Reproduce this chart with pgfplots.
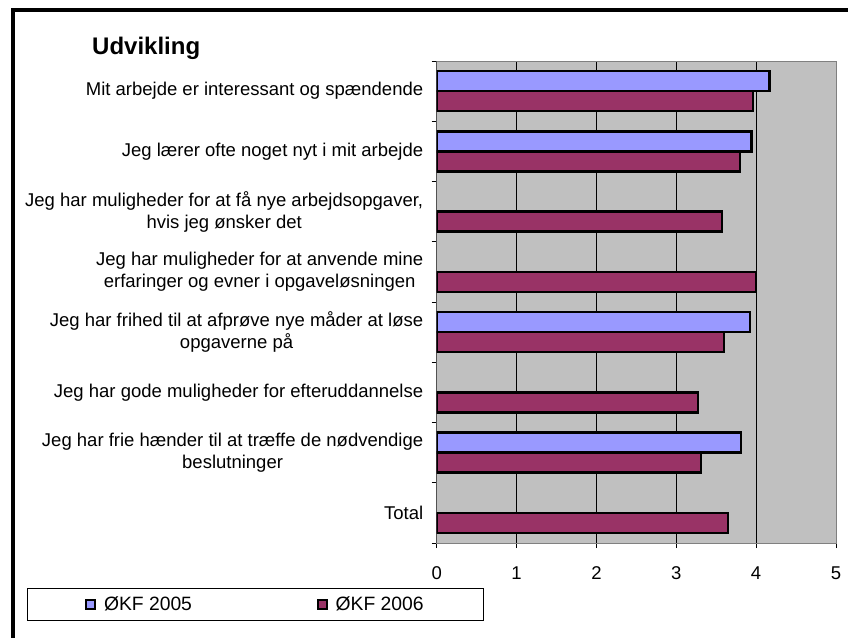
\documentclass[border=0pt]{standalone}
\usepackage{pgfplots}
\pgfplotsset{compat=1.18}
\usepackage{fontspec}
\setmainfont{Liberation Sans}
\definecolor{barblue}{HTML}{9999FF}
\definecolor{barred}{HTML}{993366}
\definecolor{plotbg}{HTML}{C0C0C0}
\definecolor{bordergray}{HTML}{808080}
\begin{document}
\begin{tikzpicture}
\useasboundingbox (0,0) rectangle (848bp,638bp);
\begin{axis}[
  at={(436.7bp,95bp)}, anchor=south west,
  scale only axis, width=399.3bp, height=482bp,
  xbar, bar width=20bp,
  xmin=0, xmax=5, ymin=-0.5, ymax=7.5,
  axis background/.style={fill=plotbg},
  axis line style={draw=bordergray, line width=1bp},
  xtick={0,1,2,3,4,5},
  xmajorgrids, major grid style={black, line width=0.9bp},
  ytick={-0.5,0.5,...,7.5}, yticklabels={},
  extra y ticks={0,1,2,3,4,5,6,7},
  extra y tick labels={Total,{Jeg har frie hænder til at træffe de nødvendige\\beslutninger},{Jeg har gode muligheder for efteruddannelse},{Jeg har frihed til at afprøve nye måder at løse\\opgaverne på},{Jeg har muligheder for at anvende mine\\erfaringer og evner i opgaveløsningen~},{Jeg har muligheder for at få nye arbejdsopgaver,\\hvis jeg ønsker det},{Jeg lærer ofte noget nyt i mit arbejde},{Mit arbejde er interessant og spændende}},
  extra y tick style={tick style={draw=none}, grid=none},
  tick align=outside, major tick length=5bp,
  xtick pos=bottom, ytick pos=left,
  tick style={black, line width=0.9bp},
  /pgf/number format/assume math mode=true,
  xticklabel style={font=\fontsize{18.5bp}{22bp}\selectfont, yshift=-15bp},
  yticklabel style={font=\fontsize{18.5bp}{21.7bp}\selectfont, align=center, xshift=-5bp},
  legend columns=2,
  legend style={at={(-1.027,-0.0934)}, anchor=north west, draw=black, line width=0.8bp,
    font=\fontsize{19.3bp}{23bp}\selectfont, inner xsep=58bp, inner ysep=6.5bp,
    /tikz/every even column/.append style={column sep=122.7bp}},
  legend image code/.code={\draw[#1, line width=2bp] (0bp,-4.5bp) rectangle (9bp,4.5bp); \path[draw=none, fill=none] (16bp,0bp) circle (0bp);},
]
\addplot[fill=barblue, draw=black, line width=2.5bp, bar shift=10bp] coordinates {
  (4.17,7) (3.94,6) (3.92,3) (3.81,1)
};
\addplot[fill=barred, draw=black, line width=2.5bp, bar shift=-10bp] coordinates {
  (3.96,7) (3.80,6) (3.57,5) (4.00,4) (3.60,3) (3.27,2) (3.31,1) (3.65,0)
};
\legend{ØKF 2005, ØKF 2006}
\draw[black, line width=1bp] (rel axis cs:0,0) -- (rel axis cs:1,0);
\draw[black, line width=1bp] (rel axis cs:0,0) -- (rel axis cs:0,1);
\end{axis}
\draw[black, line width=4bp] (11bp,627.5bp) -- (848bp,627.5bp);
\draw[black, line width=4bp] (13bp,629.5bp) -- (13bp,0bp);
\node[anchor=west, font=\bfseries\fontsize{24bp}{28bp}\selectfont, inner sep=0pt] at (92bp,590bp) {Udvikling};
\end{tikzpicture}
\end{document}
